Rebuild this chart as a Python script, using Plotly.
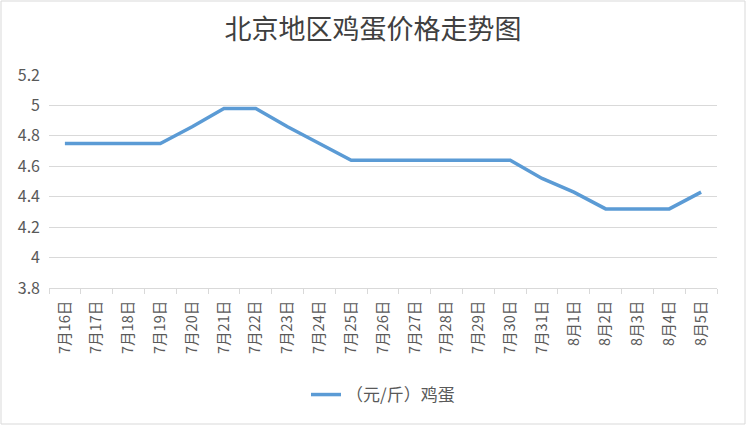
import plotly.graph_objects as go

dates = ["7月16日", "7月17日", "7月18日", "7月19日", "7月20日", "7月21日", "7月22日",
         "7月23日", "7月24日", "7月25日", "7月26日", "7月27日", "7月28日", "7月29日",
         "7月30日", "7月31日", "8月1日", "8月2日", "8月3日", "8月4日", "8月5日"]
prices = [4.75, 4.75, 4.75, 4.75, 4.86, 4.98, 4.98,
          4.86, 4.75, 4.64, 4.64, 4.64, 4.64, 4.64,
          4.64, 4.52, 4.43, 4.32, 4.32, 4.32, 4.43]
y_ticks = [3.8, 4, 4.2, 4.4, 4.6, 4.8, 5, 5.2]
y_labels = ["3.8", "4", "4.2", "4.4", "4.6", "4.8", "5", "5.2"]

FONT = "Noto Sans CJK SC, Microsoft YaHei, sans-serif"
W, H = 746, 425
ML, MR, MT, MB = 49, 29, 75, 137

fig = go.Figure()
fig.add_trace(go.Scatter(x=dates, y=prices, mode="lines", name="（元/斤）鸡蛋",
                         line=dict(color="#5b9bd5", width=3.5)))

fig.update_xaxes(type="category", tickangle=-90, tickson="boundaries",
                 range=[-0.5, len(dates) - 0.5],
                 ticks="outside", ticklen=5, tickcolor="#d9d9d9",
                 ticklabelstandoff=6,
                 showline=True, linecolor="#d9d9d9", showgrid=False,
                 tickfont=dict(size=14.5, color="#595959", family=FONT))
fig.update_yaxes(range=[3.8, 5.2], tickvals=y_ticks, ticktext=y_labels,
                 showgrid=True, gridcolor="#d9d9d9", zeroline=False,
                 showline=False, ticks="", ticklabelstandoff=8,
                 tickfont=dict(size=16, color="#595959", family=FONT))

pw, ph = W - ML - MR, H - MT - MB
fig.add_shape(type="rect", xref="paper", yref="paper",
              x0=-(ML - 1) / pw, x1=1 + (MR - 1) / pw,
              y0=-(MB - 1) / ph, y1=1 + (MT - 1) / ph,
              line=dict(color="#d9d9d9", width=1), layer="below")

fig.update_layout(
    width=W, height=H,
    title=dict(text="北京地区鸡蛋价格走势图", x=0.5, xanchor="center",
               y=1 - 30 / H, yanchor="middle",
               font=dict(size=27, color="#404040", family=FONT)),
    plot_bgcolor="white", paper_bgcolor="white",
    margin=dict(l=ML, r=MR, t=MT, b=MB),
    showlegend=True,
    legend=dict(orientation="h", x=0.5, xanchor="center", y=-(395 - 288) / ph,
                yanchor="middle", font=dict(size=17, color="#595959", family=FONT)),
)

fig.write_html("out.html", config={"displayModeBar": False},
               post_script="document.body.style.margin='0';")
